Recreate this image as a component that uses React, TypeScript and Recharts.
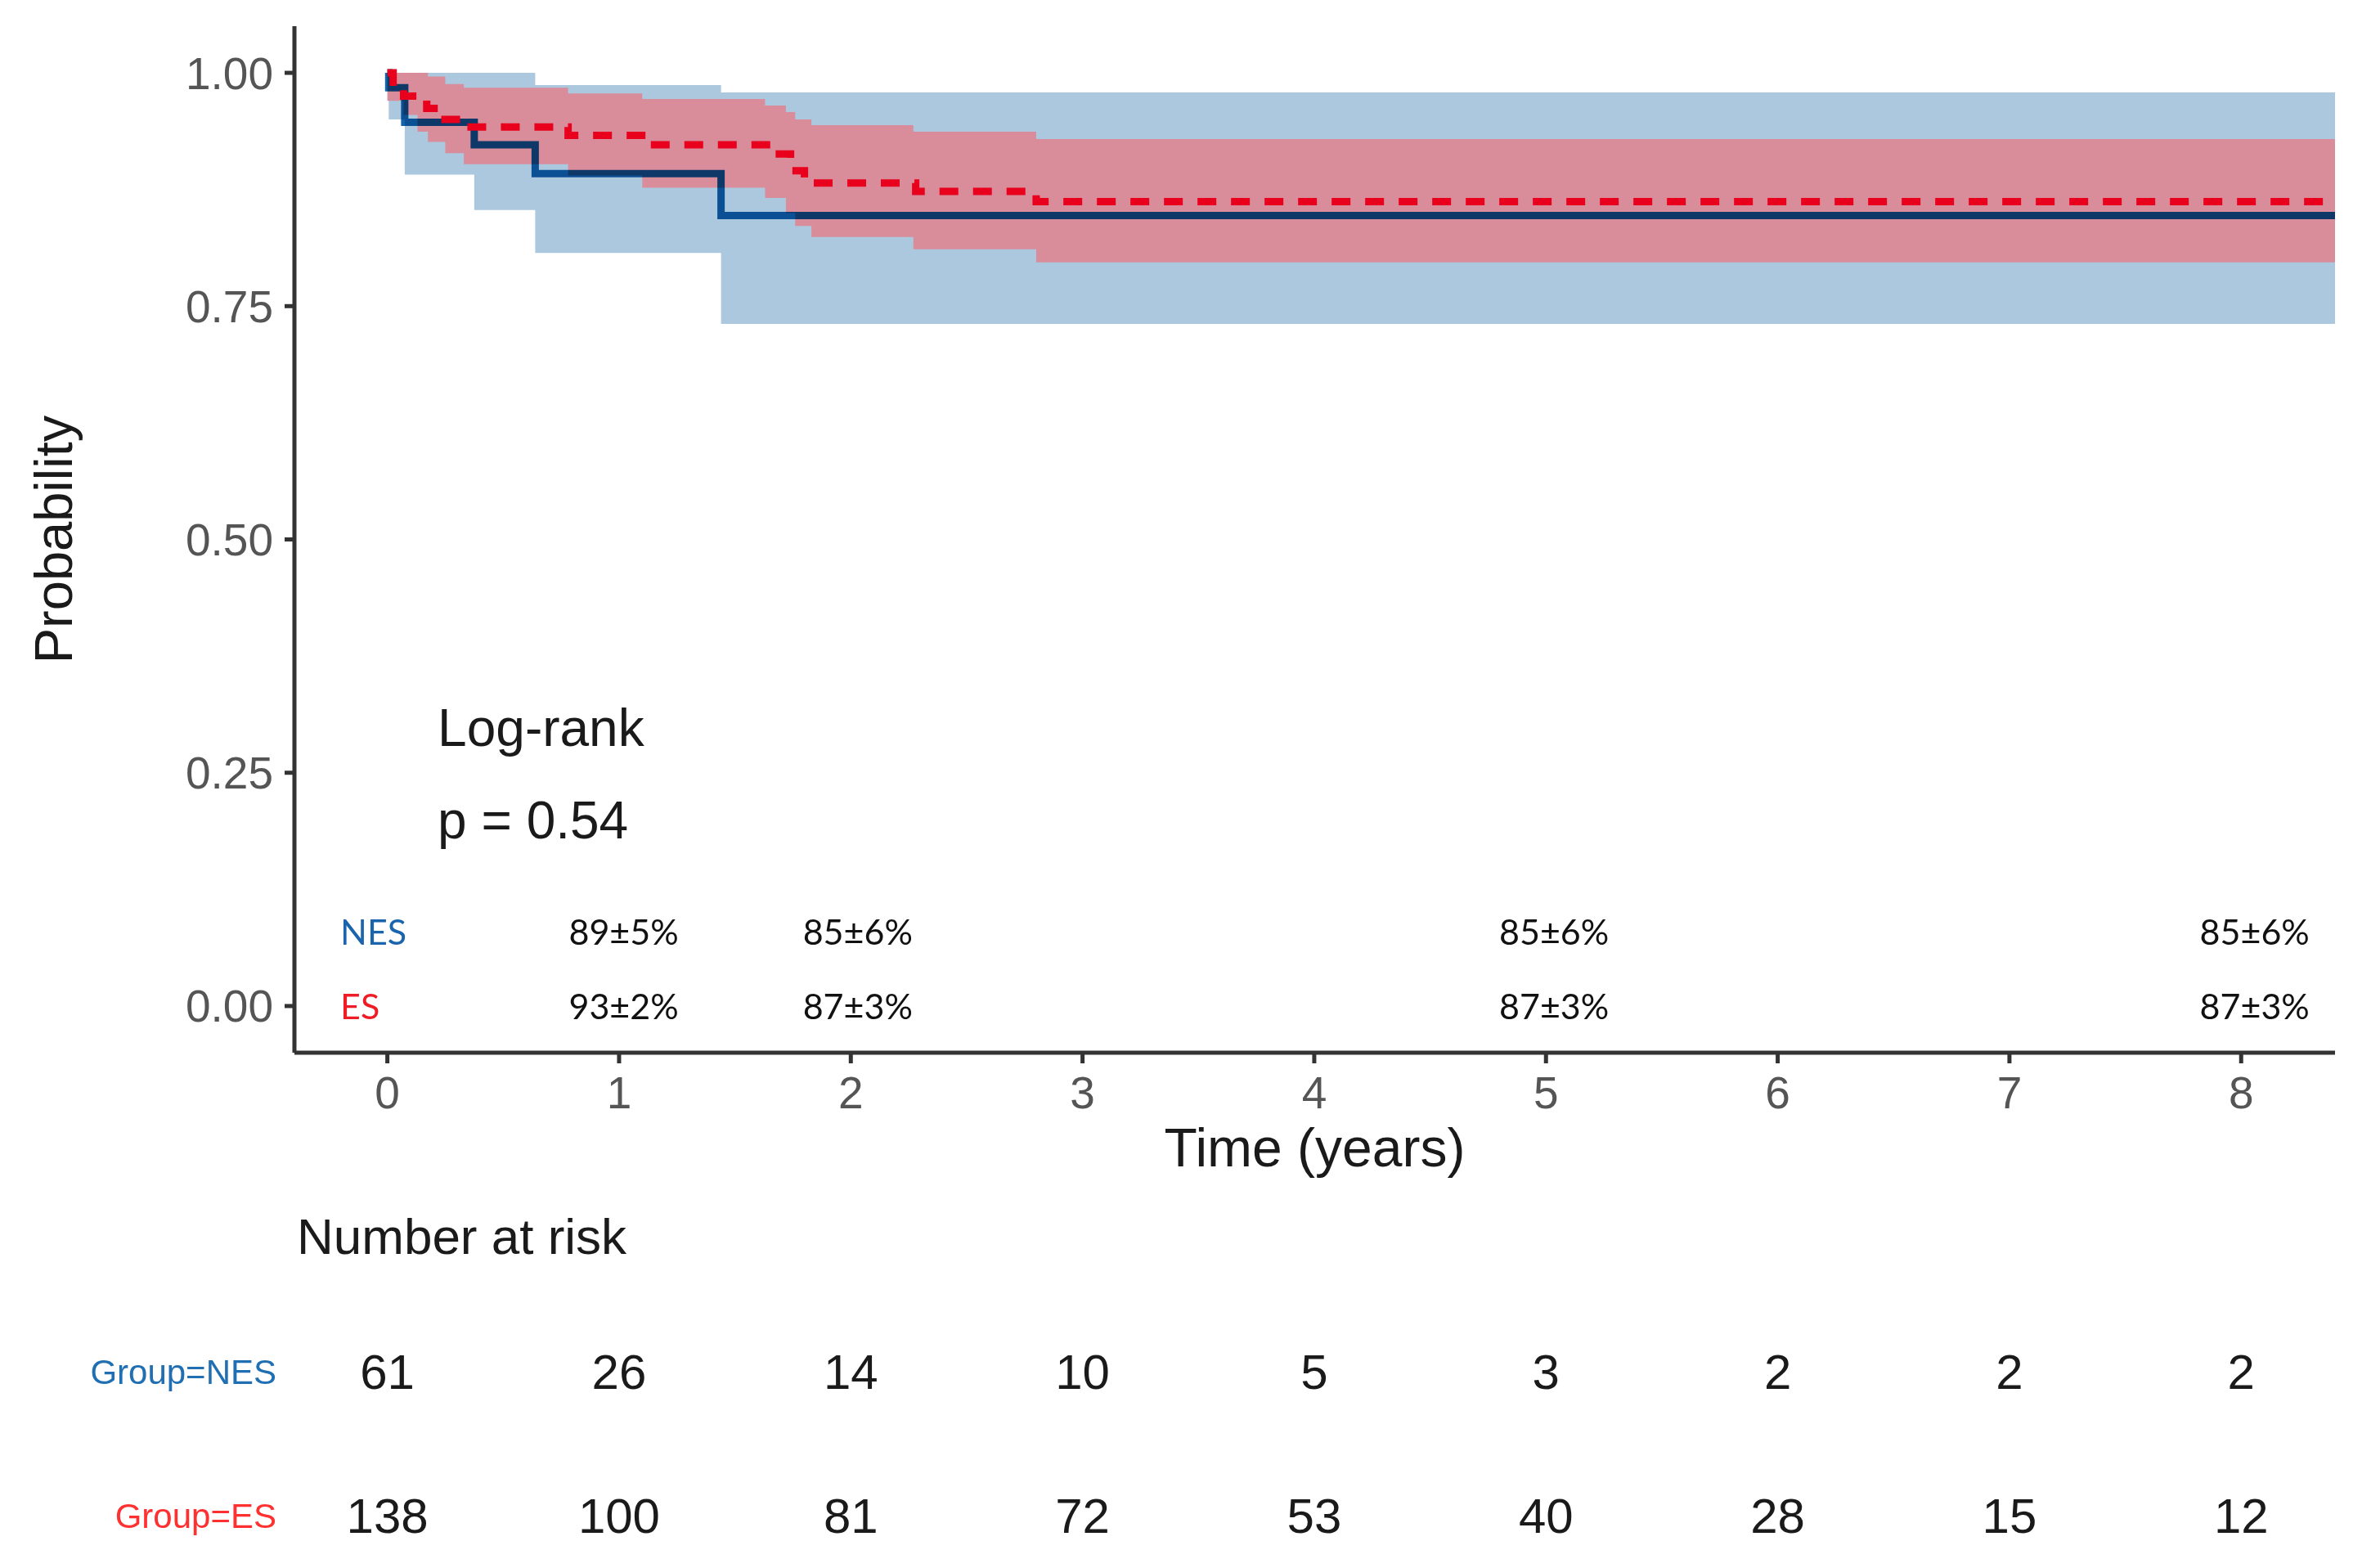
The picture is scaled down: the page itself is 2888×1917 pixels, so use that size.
import { Area, ComposedChart, Label, Line, Scatter, XAxis, YAxis } from "recharts"

const years = [0, 1, 2, 3, 4, 5, 6, 7, 8]
const probTicks = [0, 0.25, 0.5, 0.75, 1]

// NES group (blue, solid)
const nesTimes = [0, 0.006, 0.075, 0.375, 0.638, 1.44, 8.405]
const nesSurv = [1.0, 0.984, 0.947, 0.923, 0.892, 0.847, 0.847]
const nesLow = [1.0, 0.95, 0.891, 0.853, 0.807, 0.731, 0.731]
const nesHigh = [1.0, 1.0, 1.0, 1.0, 0.987, 0.979, 0.979]

// ES group (red, dashed)
const esTimes = [0, 0.025, 0.07, 0.17, 0.22, 0.33, 0.78, 1.12, 1.66, 1.74, 1.8, 2.28, 2.8, 8.405]
const esSurv = [1.0, 0.985, 0.975, 0.962, 0.95, 0.942, 0.933, 0.923, 0.913, 0.895, 0.882, 0.873, 0.862, 0.862]
const esBandTimes = [0, 0.07, 0.13, 0.175, 0.25, 0.33, 0.78, 1.1, 1.63, 1.72, 1.76, 1.83, 2.27, 2.8, 8.405]
const esLow = [0.97, 0.955, 0.937, 0.926, 0.914, 0.902, 0.89, 0.877, 0.866, 0.85, 0.836, 0.824, 0.811, 0.797, 0.797]
const esHigh = [1.0, 1.0, 1.0, 0.996, 0.988, 0.984, 0.978, 0.972, 0.965, 0.958, 0.95, 0.944, 0.937, 0.929, 0.929]

// survival estimates printed in the plot (label centres as placed in the figure)
const pctPos = [1.02, 2.03, 5.035, 8.058]
const nesPct = ["89±5%", "85±6%", "85±6%", "85±6%"]
const esPct = ["93±2%", "87±3%", "87±3%", "87±3%"]

// number at risk
const nesRisk = [61, 26, 14, 10, 5, 3, 2, 2, 2]
const esRisk = [138, 100, 81, 72, 53, 40, 28, 15, 12]

const NES_BLUE = "#1a64ad"
const ES_RED = "#ee1c25"
const X_DOMAIN: [number, number] = [-0.401, 8.405]
const FONT = "'Liberation Sans', Arial, sans-serif"
const SMALL = "Lato, 'Open Sans', sans-serif"

const nesLine = nesTimes.map((t, i) => ({ t, s: nesSurv[i] }))
const nesBand = nesTimes.map((t, i) => ({ t, band: [nesLow[i], nesHigh[i]] }))
const esLine = esTimes.map((t, i) => ({ t, s: esSurv[i] }))
const esBand = esBandTimes.map((t, i) => ({ t, band: [esLow[i], esHigh[i]] }))

const pctRows = [
  { t: -0.203, y: 0.08, text: "NES", color: NES_BLUE, anchor: "start" },
  { t: -0.203, y: 0, text: "ES", color: ES_RED, anchor: "start" },
  ...pctPos.map((t, i) => ({ t, y: 0.08, text: nesPct[i], color: "#111", anchor: "middle" })),
  ...pctPos.map((t, i) => ({ t, y: 0, text: esPct[i], color: "#111", anchor: "middle" })),
]

const logRank = [
  { t: 0.217, y: 0.298, text: "Log-rank" },
  { t: 0.217, y: 0.199, text: "p = 0.54" },
]

const riskRows = [
  ...years.map((t, i) => ({ t, y: 1, n: nesRisk[i] })),
  ...years.map((t, i) => ({ t, y: 0, n: esRisk[i] })),
]

const groupLabels: Record<number, { text: string; color: string }> = {
  1: { text: "Group=NES", color: "#1f6fb2" },
  0: { text: "Group=ES", color: "#ff3030" },
}

function PctText(props: any) {
  const { cx, cy, payload } = props
  return (
    <text x={cx} y={cy} textAnchor={payload.anchor} dominantBaseline="central"
      fontFamily={SMALL} fontSize={43} fill={payload.color}>
      {payload.text}
    </text>
  )
}

function NoteText(props: any) {
  const { cx, cy, payload } = props
  return (
    <text x={cx} y={cy} dominantBaseline="central" fontFamily={FONT} fontSize={64} fill="#1a1a1a">
      {payload.text}
    </text>
  )
}

function RiskText(props: any) {
  const { cx, cy, payload } = props
  return (
    <text x={cx} y={cy} textAnchor="middle" dominantBaseline="central" fontFamily={FONT} fontSize={60} fill="#1a1a1a">
      {payload.n}
    </text>
  )
}

function GroupTick(props: any) {
  const { y, payload } = props
  const g = groupLabels[payload.value]
  if (!g) return null
  return (
    <text x={338} y={y} textAnchor="end" dominantBaseline="central" fontFamily={FONT} fontSize={42} fill={g.color}>
      {g.text}
    </text>
  )
}

function ProbLabel(props: any) {
  const vb = props.viewBox || { x: 0, y: 32, height: 1255 }
  const x = vb.x + 65
  const y = vb.y + vb.height / 2
  return (
    <text x={x} y={y} transform={`rotate(-90 ${x} ${y})`} textAnchor="middle" dominantBaseline="central"
      fontFamily={FONT} fontSize={65} fill="#1a1a1a">
      Probability
    </text>
  )
}

export default function App() {
  return (
    <div style={{ position: "relative", width: 2888, height: 1917, background: "#fff" }}>
      <style>{`body{margin:0} .nes-line{mix-blend-mode:multiply}`}</style>
      <div style={{ position: "absolute", left: 0, top: 0 }}>
        <ComposedChart width={2888} height={1500} margin={{ top: 32, right: 33, bottom: 63, left: 0 }}
          style={{ fontFamily: FONT }}>
          <XAxis dataKey="t" type="number" domain={X_DOMAIN} ticks={years} allowDataOverflow
            height={150} tickSize={13} tickMargin={16}
            axisLine={{ stroke: "#333", strokeWidth: 5 }} tickLine={{ stroke: "#333", strokeWidth: 5 }}
            tick={{ fill: "#555", fontSize: 55 }}
            label={{ value: "Time (years)", position: "insideBottom", offset: 11, fontSize: 66, fill: "#1a1a1a" }} />
          <YAxis type="number" domain={[-0.05, 1.05]} ticks={probTicks} allowDataOverflow width={360}
            tickSize={12} tickMargin={14} tickFormatter={(v: number) => v.toFixed(2)}
            axisLine={{ stroke: "#333", strokeWidth: 5 }} tickLine={{ stroke: "#333", strokeWidth: 5 }}
            tick={{ fill: "#555", fontSize: 55 }}>
            <Label content={ProbLabel} />
          </YAxis>
          <Area data={nesBand} dataKey="band" type="stepAfter" stroke="none" fill="#abc8df" fillOpacity={1}
            isAnimationActive={false} />
          <Area data={esBand} dataKey="band" type="stepAfter" stroke="none" fill="#d98d9b" fillOpacity={1}
            isAnimationActive={false} />
          <Line data={nesLine} dataKey="s" type="stepAfter" className="nes-line" stroke="#1064ab" strokeWidth={9}
            dot={false} isAnimationActive={false} />
          <Line data={esLine} dataKey="s" type="stepAfter" stroke="#e8001c" strokeWidth={9} strokeDasharray="23 18"
            dot={false} isAnimationActive={false} />
          <Scatter data={pctRows} dataKey="y" shape={PctText} isAnimationActive={false} />
          <Scatter data={logRank} dataKey="y" shape={NoteText} isAnimationActive={false} />
        </ComposedChart>
      </div>
      <div style={{ position: "absolute", left: 363, top: 1481, fontFamily: FONT, fontSize: 62, lineHeight: "62px", color: "#1a1a1a" }}>
        Number at risk
      </div>
      <div style={{ position: "absolute", left: 0, top: 1500 }}>
        <ComposedChart width={2888} height={417} margin={{ top: 0, right: 33, bottom: 0, left: 0 }}>
          <XAxis dataKey="t" type="number" domain={X_DOMAIN} allowDataOverflow hide />
          <YAxis type="number" domain={[-0.363, 2.006]} ticks={[0, 1]} width={360} axisLine={false} tickLine={false}
            tick={GroupTick} />
          <Scatter data={riskRows} dataKey="y" shape={RiskText} isAnimationActive={false} />
        </ComposedChart>
      </div>
    </div>
  )
}
